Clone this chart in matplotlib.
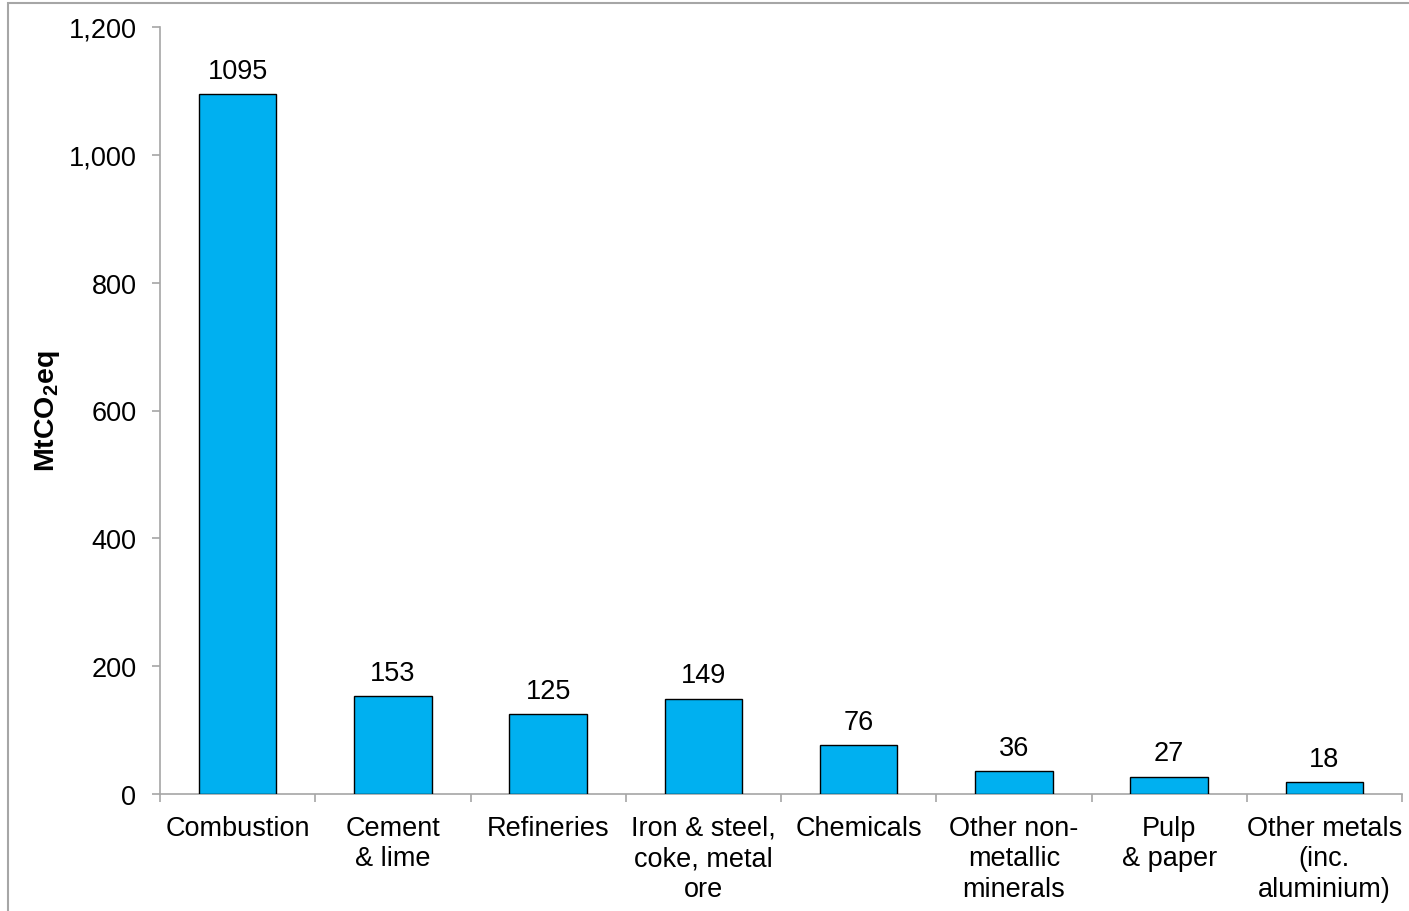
import matplotlib
matplotlib.use("Agg")
import matplotlib.pyplot as plt
from matplotlib.patches import Rectangle
from matplotlib.ticker import FuncFormatter, FixedLocator

categories = ["Combustion", "Cement\n& lime", "Refineries", "Iron & steel,\ncoke, metal\nore",
              "Chemicals", "Other non-\nmetallic\nminerals", "Pulp\n& paper", "Other metals\n(inc.\naluminium)"]
values = [1095, 153, 125, 149, 76, 36, 27, 18]
yticks = [0, 200, 400, 600, 800, 1000, 1200]

plt.rcParams['font.family'] = ['Liberation Sans', 'DejaVu Sans']
plt.rcParams['mathtext.fontset'] = 'custom'
plt.rcParams['mathtext.rm'] = 'Liberation Sans'
plt.rcParams['mathtext.bf'] = 'Liberation Sans:bold'

FS = 19.5
W, H = 1409, 912
fig = plt.figure(figsize=(W / 100, H / 100), dpi=100)
ax = fig.add_axes([160 / W, 1 - 795 / H, (1402 - 160) / W, (795 - 28) / H])

# outer frame
fig.patches.append(Rectangle((8 / W, -0.1), 1.2, 1 - 4 / H + 0.1, transform=fig.transFigure,
                             fill=False, edgecolor='#a6a6a6', linewidth=1.5, zorder=0))

x = list(range(len(categories)))
ax.bar(x, values, width=0.5, color='#00B0F0', edgecolor='black', linewidth=1, zorder=3)
for xi, v in zip(x, values):
    ax.annotate(str(v), (xi, v), xytext=(0, 7.5), textcoords='offset points',
                ha='center', va='bottom', fontsize=FS, color='black')

ax.set_xlim(-0.5, len(categories) - 0.5)
ax.set_ylim(0, 1200)
ax.set_yticks(yticks)
ax.yaxis.set_major_formatter(FuncFormatter(lambda v, p: f"{int(v):,}"))
ax.set_xticks(x)
ax.set_xticklabels(categories, fontsize=FS, linespacing=1.22)
ax.xaxis.set_minor_locator(FixedLocator([i - 0.5 for i in range(len(categories) + 1)]))
ax.tick_params(axis='x', which='major', length=0, pad=15)
ax.tick_params(axis='x', which='minor', length=6, width=1.2, color='#a6a6a6', direction='out')
ax.tick_params(axis='y', which='major', length=6, width=1.2, color='#a6a6a6', pad=11, labelsize=FS)

for s in ['top', 'right']:
    ax.spines[s].set_visible(False)
for s in ['left', 'bottom']:
    ax.spines[s].set_color('#a6a6a6')
    ax.spines[s].set_linewidth(1.2)

ax.set_ylabel(r'MtCO$_\mathbf{2}$eq', fontsize=20.5, fontweight='bold')
ax.yaxis.set_label_coords(-98 / (1402 - 160), 0.5)

fig.savefig('out.png', dpi=100)
